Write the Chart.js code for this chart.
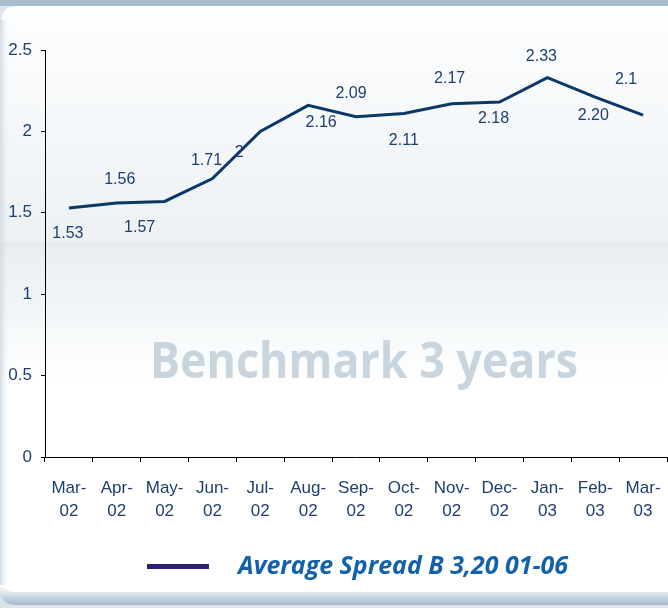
<!DOCTYPE html>
<html>
<head>
<meta charset="utf-8">
<script src="https://cdn.jsdelivr.net/npm/chart.js@4"></script>
<style>
  html, body { margin: 0; padding: 0; background: #e4ebf0; }
  canvas { display: block; }
</style>
</head>
<body>
<canvas id="spreadChart" width="668" height="608"></canvas>
<script>
// --- DATA ---
const months = ['Mar-02', 'Apr-02', 'May-02', 'Jun-02', 'Jul-02', 'Aug-02', 'Sep-02',
                'Oct-02', 'Nov-02', 'Dec-02', 'Jan-03', 'Feb-03', 'Mar-03'];
const spreadValues = [1.53, 1.56, 1.57, 1.71, 2.00, 2.16, 2.09, 2.11, 2.17, 2.18, 2.33, 2.21, 2.10];
const spreadLabels = ['1.53', '1.56', '1.57', '1.71', '2', '2.16', '2.09', '2.11', '2.17', '2.18', '2.33', '2.20', '2.1'];
const seriesName = 'Average Spread B 3,20 01-06';
const watermarkText = 'Benchmark 3 years';

// label offsets from each point (as placed in the original)
const labelShift = [[-1, 26], [3, -23], [-25, 26], [-6, -18], [-21, 21], [13, 17], [-5, -23],
                    [0, 27], [-2, -25], [-6, 16], [-6, -21], [-2, 18], [-17, -36]];

const navy = '#1d3f6e';
const tickFont = { family: 'Liberation Sans, Arial, sans-serif', size: 17 };

// --- BACKGROUND PANEL + WATERMARK + LEGEND ---
function roundRect(ctx, x, y, w, h, r) {
    ctx.beginPath();
    ctx.moveTo(x + r, y);
    ctx.lineTo(x + w - r, y);
    ctx.quadraticCurveTo(x + w, y, x + w, y + r);
    ctx.lineTo(x + w, y + h - r);
    ctx.quadraticCurveTo(x + w, y + h, x + w - r, y + h);
    ctx.lineTo(x + r, y + h);
    ctx.quadraticCurveTo(x, y + h, x, y + h - r);
    ctx.lineTo(x, y + r);
    ctx.quadraticCurveTo(x, y, x + r, y);
    ctx.closePath();
}

// draw text squeezed/stretched to a given width
function fitText(ctx, text, cx, baseline, width) {
    const w = ctx.measureText(text).width;
    ctx.save();
    ctx.translate(cx, baseline);
    ctx.scale(width / w, 1);
    ctx.textAlign = 'center';
    ctx.fillText(text, 0, 0);
    ctx.restore();
}

const panelPlugin = {
    id: 'panel',
    beforeDraw(chart) {
        const ctx = chart.ctx;
        const W = chart.width, H = chart.height;
        ctx.save();
        ctx.fillStyle = '#dce4eb';
        ctx.fillRect(0, 0, W, H);
        ctx.fillStyle = '#a8bccb';
        ctx.fillRect(0, 0, W, 6);

        // bottom shadow
        const sh = ctx.createLinearGradient(0, 586, 0, 605);
        sh.addColorStop(0, '#ffffff');
        sh.addColorStop(1, '#a3b8c9');
        roundRect(ctx, 0, 10, W + 20, 595, 16);
        ctx.fillStyle = sh;
        ctx.fill();

        // panel
        const g = ctx.createLinearGradient(0, 6, 0, 600);
        g.addColorStop(0, '#fdfeff');
        g.addColorStop(0.396, '#edf1f4');
        g.addColorStop(0.400, '#e3e8ec');
        g.addColorStop(0.41, '#eaeef2');
        g.addColorStop(0.58, '#f9fbfc');
        g.addColorStop(0.63, '#ffffff');
        g.addColorStop(1, '#ffffff');
        roundRect(ctx, 2, 6, W + 20, 586, 14);
        ctx.fillStyle = g;
        ctx.fill();

        // left edge shade
        const lg = ctx.createLinearGradient(0, 0, 10, 0);
        lg.addColorStop(0, 'rgba(170,190,205,0.55)');
        lg.addColorStop(1, 'rgba(255,255,255,0)');
        ctx.fillStyle = lg;
        ctx.fillRect(0, 20, 10, 565);

        // watermark
        ctx.fillStyle = '#c8d5df';
        ctx.font = 'bold 50px "Open Sans", sans-serif';
        fitText(ctx, watermarkText, 364, 378, 428);

        // legend
        const ds = chart.data.datasets[0];
        ctx.fillStyle = '#2d2272';
        ctx.fillRect(147, 564, 62, 5);
        ctx.fillStyle = '#1262ab';
        ctx.font = 'italic bold 25px "Open Sans", sans-serif';
        ctx.textBaseline = 'alphabetic';
        const tw = 330;
        fitText(ctx, ds.label, 238 + tw / 2, 574, tw);
        ctx.restore();
    }
};

const valueLabelPlugin = {
    id: 'valueLabels',
    afterDatasetsDraw(chart) {
        const ctx = chart.ctx;
        const meta = chart.getDatasetMeta(0);
        ctx.save();
        ctx.fillStyle = navy;
        ctx.font = '16px "Liberation Sans", Arial, sans-serif';
        ctx.textAlign = 'center';
        ctx.textBaseline = 'middle';
        meta.data.forEach((pt, i) => {
            const [dx, dy] = labelShift[i];
            ctx.fillText(spreadLabels[i], pt.x + dx, pt.y + dy);
        });
        ctx.restore();
    }
};

const ctx = document.getElementById('spreadChart').getContext('2d');
new Chart(ctx, {
    type: 'line',
    data: {
        labels: months,
        datasets: [{
            label: seriesName,
            data: spreadValues,
            borderColor: '#0c3868',
            borderWidth: 3,
            pointRadius: 0,
            tension: 0,
            fill: false
        }]
    },
    options: {
        responsive: false,
        animation: false,
        devicePixelRatio: 1,
        layout: { padding: { left: 0, top: 50, right: 1, bottom: 0 } },
        plugins: { legend: { display: false }, tooltip: { enabled: false } },
        scales: {
            y: {
                min: 0,
                max: 2.5,
                ticks: {
                    stepSize: 0.5, color: navy, font: tickFont, padding: 9,
                    callback: v => String(v)
                },
                grid: { drawOnChartArea: false, tickLength: 4, color: '#000' },
                border: { color: '#000', width: 1 },
                afterFit: s => { s.width = 45; }
            },
            x: {
                offset: true,
                ticks: {
                    color: navy,
                    font: { ...tickFont, lineHeight: 1.35 },
                    padding: 15,
                    maxRotation: 0,
                    autoSkip: false,
                    callback: function (v) {
                        const p = this.getLabelForValue(v).split('-');
                        return [p[0] + '-', p[1]];
                    }
                },
                grid: { offset: true, drawOnChartArea: false, tickLength: 5, color: '#000' },
                border: { color: '#000', width: 1 },
                afterFit: s => {
                    s.height = 151;
                    s.paddingLeft = 0;
                    s.paddingRight = 0;
                }
            }
        }
    },
    plugins: [panelPlugin, valueLabelPlugin]
});
</script>
</body>
</html>
